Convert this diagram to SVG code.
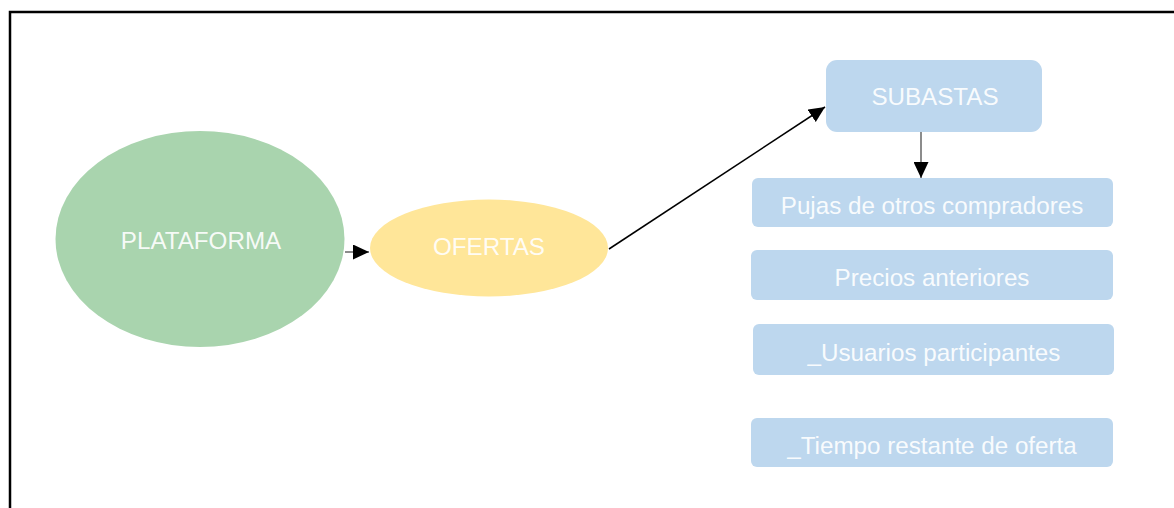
<svg xmlns="http://www.w3.org/2000/svg" width="1174" height="508" viewBox="0 0 1174 508">
<defs>
<style>
.lbl{font-family:"Liberation Sans",Arial,sans-serif;font-size:24.2px;fill:#ffffff;fill-opacity:0.92;text-anchor:middle}
.box{fill:#bdd7ee}
.conn{fill:none;stroke-width:1.5}
</style>
<marker id="ah" markerUnits="userSpaceOnUse" markerWidth="17" markerHeight="15" refX="16" refY="7.5" orient="auto">
<path d="M0,0 L16,7.5 L0,15 z" fill="#000"/>
</marker>
</defs>
<rect width="1174" height="508" fill="#fff"/>
<rect x="10" y="12" width="1180" height="520" fill="none" stroke="#000" stroke-width="2.5"/>
<g id="connectors">
<line class="conn" x1="345" y1="252" x2="369" y2="252" stroke="#666" marker-end="url(#ah)"/>
<line class="conn" x1="609" y1="249" x2="825" y2="107" stroke="#000" marker-end="url(#ah)"/>
<line class="conn" x1="921" y1="132" x2="921" y2="178" stroke="#666" marker-end="url(#ah)"/>
</g>
<g id="plataforma">
<ellipse cx="200" cy="239" rx="144.5" ry="108" fill="#a9d4ae"/>
<text class="lbl" x="201" y="249">PLATAFORMA</text>
</g>
<g id="ofertas">
<ellipse cx="489" cy="248" rx="119" ry="48.5" fill="#ffe699"/>
<text class="lbl" x="489" y="255">OFERTAS</text>
</g>
<g id="subastas">
<rect class="box" x="826" y="60" width="216" height="72" rx="11"/>
<text class="lbl" x="935" y="105">SUBASTAS</text>
</g>
<g id="pujas">
<rect class="box" x="752" y="178" width="361" height="49" rx="6"/>
<text class="lbl" x="932" y="214">Pujas de otros compradores</text>
</g>
<g id="precios">
<rect class="box" x="751" y="250" width="362" height="50" rx="6"/>
<text class="lbl" x="932" y="286">Precios anteriores</text>
</g>
<g id="usuarios">
<rect class="box" x="753" y="324" width="361" height="51" rx="6"/>
<text class="lbl" x="934" y="361">_Usuarios participantes</text>
</g>
<g id="tiempo">
<rect class="box" x="751" y="418" width="362" height="49" rx="6"/>
<text class="lbl" x="932" y="454">_Tiempo restante de oferta</text>
</g>
</svg>
